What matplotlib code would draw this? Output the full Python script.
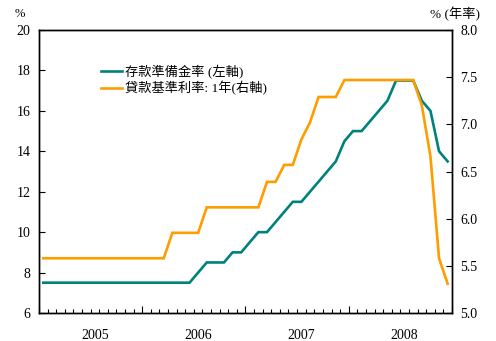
import matplotlib
matplotlib.use("Agg")
import matplotlib.pyplot as plt
import numpy as np
from matplotlib.ticker import FixedLocator, NullFormatter

plt.rcParams['font.family'] = ['Liberation Serif', 'Noto Sans CJK TC', 'DejaVu Sans']

years = ['2005', '2006', '2007', '2008']
# Monthly values, Jan 2005 - Dec 2008
rrr = [7.5] * 18 + [8.0, 8.5, 8.5, 8.5, 9.0, 9.0,
                    9.5, 10.0, 10.0, 10.5, 11.0, 11.5, 11.5, 12.0, 12.5, 13.0, 13.5, 14.5,
                    15.0, 15.0, 15.5, 16.0, 16.5, 17.5, 17.5, 17.5, 16.5, 16.0, 14.0, 13.5]
lending = [5.58] * 15 + [5.85] * 4 + [6.12] * 7 + [6.39, 6.39, 6.57, 6.57, 6.84, 7.02,
                                                   7.29, 7.29, 7.29] + [7.47] * 9 + [7.20, 6.66, 5.58, 5.31]

label_rrr = '存款準備金率 (左軸)'
label_lend = '貸款基準利率: 1年(右軸)'

teal = '#00827C'
orange = '#FF9C00'

fig = plt.figure(figsize=(4.96, 3.41), dpi=100)
ax = fig.add_axes([0.0786, 0.0821, 0.8326, 0.8299])
ax2 = ax.twinx()

x = np.arange(len(rrr))
l1, = ax.plot(x, rrr, color=teal, lw=1.9, solid_joinstyle='miter', zorder=3)
l2, = ax2.plot(x, lending, color=orange, lw=1.9, solid_joinstyle='miter', zorder=2)

n = len(rrr)
ax.set_xlim(-0.5, n - 0.5)
ax.set_ylim(6, 20)
ax2.set_ylim(5.0, 8.0)
ax.set_yticks(np.arange(6, 21, 2))
ax2.set_yticks(np.arange(5.0, 8.01, 0.5))
ax2.set_yticklabels([f'{v:.1f}' for v in np.arange(5.0, 8.01, 0.5)])

ax.xaxis.set_major_locator(FixedLocator(np.arange(-0.5, n, 12)))
ax.xaxis.set_minor_locator(FixedLocator(np.arange(-0.5, n, 1)))
ax.xaxis.set_major_formatter(NullFormatter())
ax.tick_params(axis='x', which='major', direction='in', length=5, width=0.8)
ax.tick_params(axis='x', which='minor', direction='in', length=3, width=0.8)
ax.tick_params(axis='y', direction='in', length=4, width=0.8, labelsize=10, pad=6)
ax2.tick_params(axis='y', direction='in', length=4, width=0.8, labelsize=10, pad=6)

for i, yr in enumerate(years):
    ax.text(6 + 12 * i, -0.055, yr, transform=ax.get_xaxis_transform(),
            ha='center', va='top', fontsize=10)

for a in (ax, ax2):
    for s in a.spines.values():
        s.set_linewidth(1.0)

fig.text(0.04, 0.958, '%', fontsize=9, ha='center', va='center')
fig.text(0.917, 0.958, '% (年率)', fontsize=9.5, ha='center', va='center')

ax.legend([l1, l2], [label_rrr, label_lend], loc='upper left',
          bbox_to_anchor=(0.135, 0.9), frameon=False, fontsize=9.5,
          handlelength=1.6, handletextpad=0.2, labelspacing=0.15, borderpad=0)

fig.savefig('out.png', dpi=100)
